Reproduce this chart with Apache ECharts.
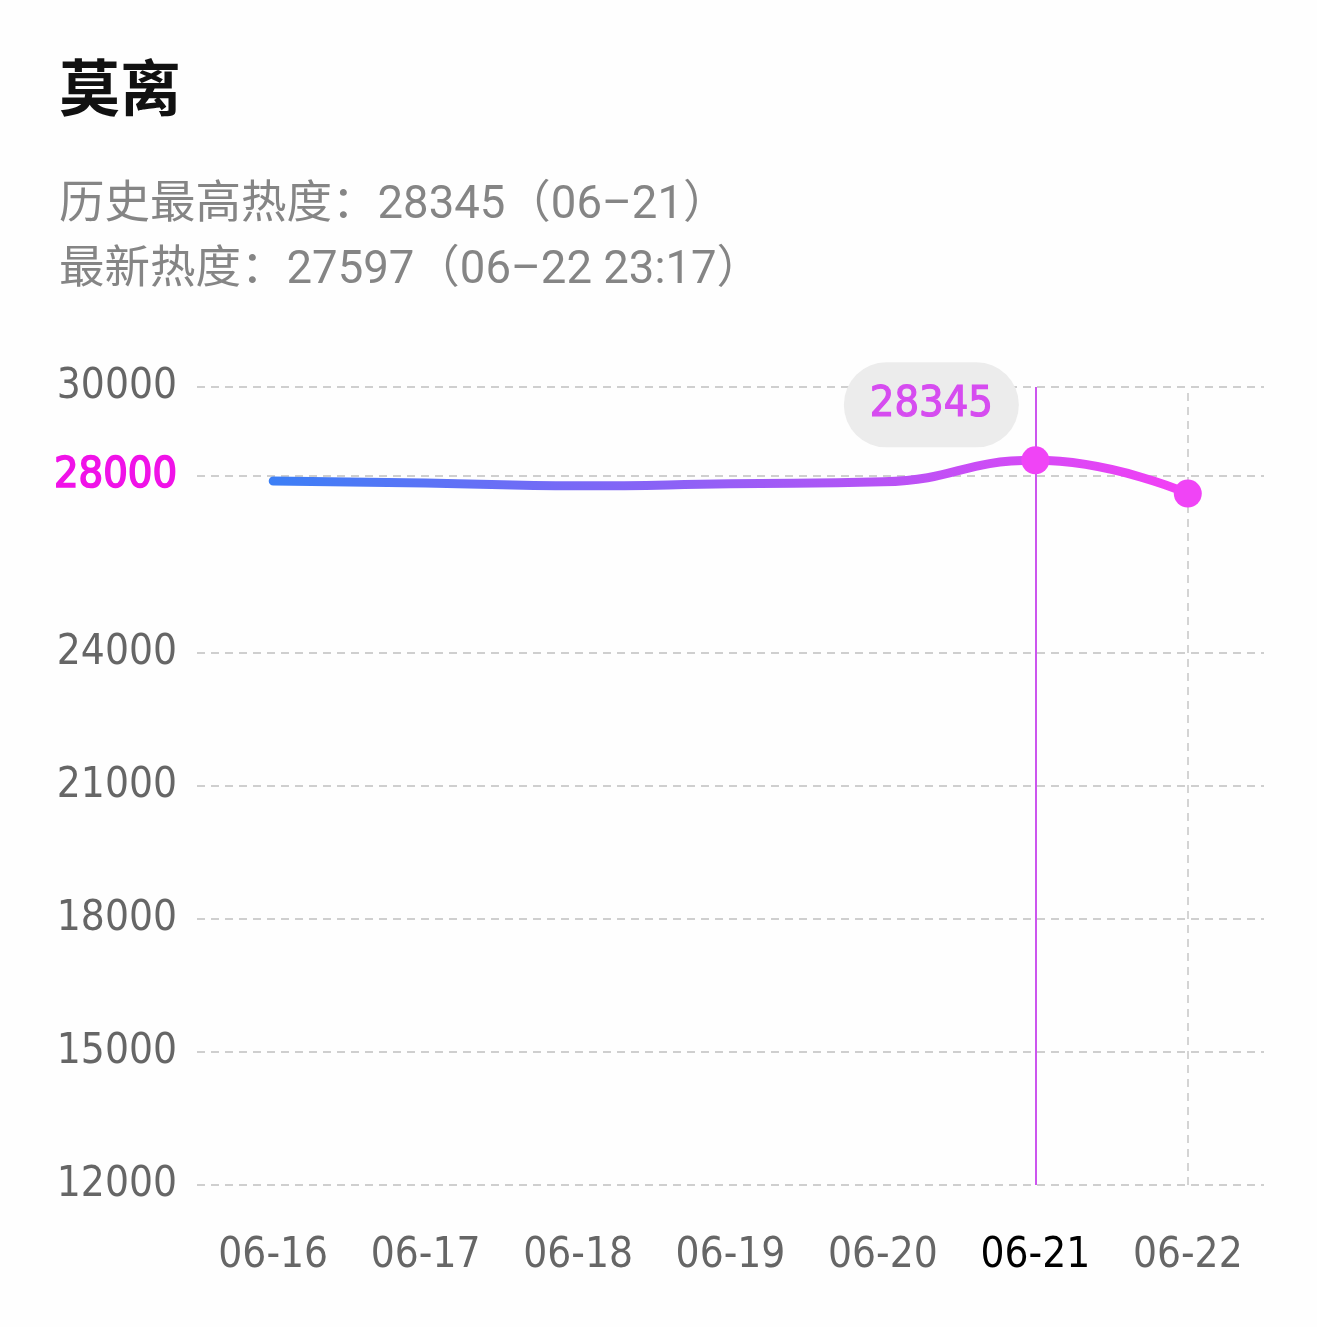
<!DOCTYPE html>
<html>
<head>
<meta charset="utf-8">
<script src="https://cdn.jsdelivr.net/npm/echarts@6/dist/echarts.min.js"></script>
<style>
html,body{margin:0;padding:0;background:#fefefe;}
#c{width:1317px;height:1327px;}
</style>
</head>
<body>
<div id="c"></div>
<script>
const titleText = '莫离';
const line1 = '历史最高热度：28345（06–21）';
const line2 = '最新热度：27597（06–22 23:17）';
const categories = ['06-16','06-17','06-18','06-19','06-20','06-21','06-22'];
const values = [27880, 27835, 27770, 27815, 27860, 28345, 27597];
const yTicks = [12000, 15000, 18000, 21000, 24000, 28000, 30000];
const highlightTick = 28000;
const markedDays = ['06-21', '06-22'];
const peakDay = '06-21';
const lastDay = '06-22';

const numFont = '"DejaVu Sans Condensed", "DejaVu Sans", sans-serif';
const chart = echarts.init(document.getElementById('c'), null, {renderer: 'canvas'});

const seriesData = values.map((v, i) => {
  const d = categories[i];
  const item = {value: v};
  if (markedDays.indexOf(d) >= 0) {
    item.symbol = 'circle';
    item.symbolSize = 28;
  } else {
    item.symbol = 'none';
  }
  if (d === peakDay) {
    item.label = {
      show: true,
      position: 'top',
      offset: [-104, 6],
      formatter: String(v),
      color: '#d64cf0',
      fontFamily: numFont,
      fontSize: 43,
      fontWeight: 'normal',
      textBorderColor: '#d64cf0',
      textBorderWidth: 1.2,
      backgroundColor: '#ececec',
      borderRadius: 43,
      padding: [21, 26, 21, 26]
    };
  }
  return item;
});

chart.setOption({
  animation: false,
  backgroundColor: '#fefefe',
  title: [
    {text: titleText, left: 54, top: 52, textStyle: {fontFamily: '"Noto Sans CJK SC"', fontSize: 61, fontWeight: 'bold', color: '#111'}},
    {text: line1, left: 54, top: 179, textStyle: {fontFamily: 'Roboto, "Noto Sans CJK SC"', fontSize: 45.5, fontWeight: 'normal', color: '#858585'}},
    {text: line2, left: 54, top: 244, textStyle: {fontFamily: 'Roboto, "Noto Sans CJK SC"', fontSize: 45.5, fontWeight: 'normal', color: '#858585'}}
  ],
  grid: {left: 197, right: 53, top: 387, bottom: 142, containLabel: false},
  xAxis: {
    type: 'category',
    data: categories,
    boundaryGap: true,
    axisLine: {show: false},
    axisTick: {show: false},
    splitLine: {show: false},
    axisLabel: {
      margin: 50,
      fontFamily: numFont,
      fontSize: 42,
      color: (val) => val === peakDay ? '#000' : '#666'
    }
  },
  yAxis: {
    type: 'value',
    min: 12000,
    max: 30000,
    axisLine: {show: false},
    axisTick: {show: false, customValues: yTicks},
    axisLabel: {
      customValues: yTicks,
      margin: 20,
      fontFamily: numFont,
      fontSize: 42,
      color: (val) => Number(val) === highlightTick ? '#f012e8' : '#666',
      formatter: (val) => Number(val) === highlightTick ? '{h|' + val + '}' : String(val),
      rich: {h: {fontFamily: numFont, fontSize: 43, fontWeight: 'normal', color: '#f012e8', textBorderColor: '#f012e8', textBorderWidth: 1.6}}
    },
    splitLine: {show: true, lineStyle: {color: '#cfcfcf', width: 2, type: [8, 6]}}
  },
  series: [{
    type: 'line',
    data: seriesData,
    smooth: 0.5,
    symbol: 'circle',
    lineStyle: {
      width: 9,
      cap: 'round',
      color: new echarts.graphic.LinearGradient(0, 0, 1, 0, [
        {offset: 0, color: '#3b7ff6'},
        {offset: 0.5, color: '#985df6'},
        {offset: 1, color: '#f53ff5'}
      ])
    },
    itemStyle: {color: '#f044f6'},
    markLine: {
      silent: true,
      symbol: 'none',
      label: {show: false},
      data: [
        {xAxis: peakDay, lineStyle: {color: '#cc55ee', width: 2, type: 'solid'}},
        {xAxis: lastDay, lineStyle: {color: '#d4d4d4', width: 2, type: [8, 6]}}
      ]
    },
    z: 5
  }]
});
</script>
</body>
</html>
